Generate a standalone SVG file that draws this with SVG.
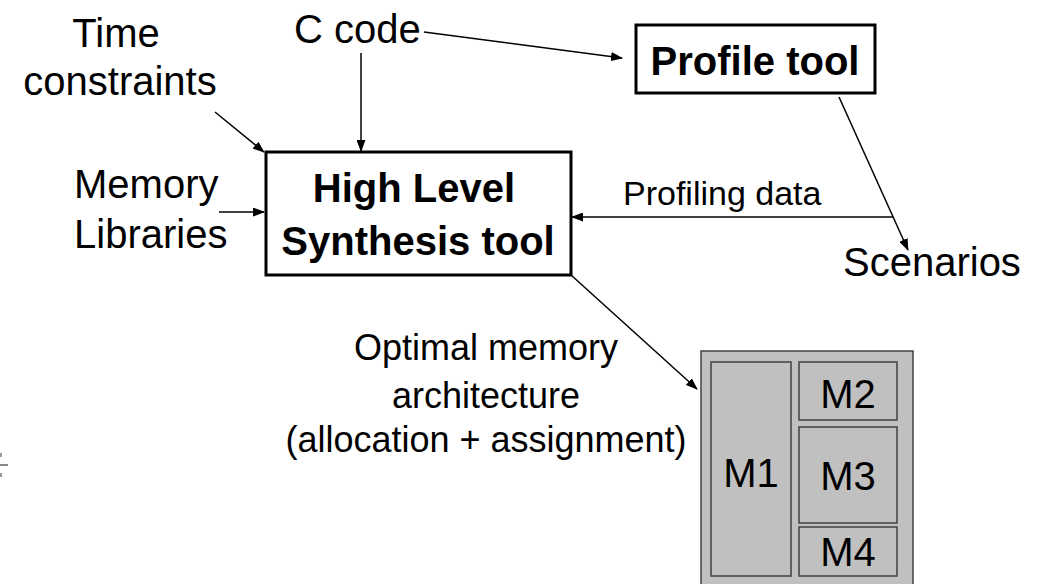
<svg xmlns="http://www.w3.org/2000/svg" width="1037" height="584" viewBox="0 0 1037 584">
<style>
.lbl{font-family:"Liberation Sans",Arial,sans-serif;font-size:40px;fill:#000}
.bold{font-family:"Liberation Sans",Arial,sans-serif;font-size:40px;font-weight:bold;fill:#000}
.small{font-family:"Liberation Sans",Arial,sans-serif;font-size:34px;fill:#000}
.mid{font-family:"Liberation Sans",Arial,sans-serif;font-size:36px;fill:#000}
.box{fill:#fff;stroke:#000;stroke-width:3}
.mem{fill:#c0c0c0;stroke:#404040;stroke-width:1.5}
.conn{stroke:#000;stroke-width:1.5;fill:none;marker-end:url(#arr)}
</style>
<defs>
<marker id="arr" markerUnits="userSpaceOnUse" markerWidth="12" markerHeight="9" refX="11" refY="4.5" orient="auto">
<path d="M0,0 L12,4.5 L0,9 z" fill="#000"/>
</marker>
</defs>
<rect width="1037" height="584" fill="#fff"/>
<g id="artifact">
<line x1="0" y1="465" x2="8" y2="465" stroke="#888" stroke-width="2"/>
<rect x="0" y="453" width="2" height="4" fill="#999"/>
<rect x="0" y="473" width="2" height="4" fill="#999"/>
</g>
<g id="time-constraints">
<text class="lbl" x="116" y="47" text-anchor="middle">Time</text>
<text class="lbl" x="120" y="95" text-anchor="middle">constraints</text>
</g>
<g id="memory-libraries">
<text class="lbl" x="74" y="198">Memory</text>
<text class="lbl" x="74" y="248">Libraries</text>
</g>
<g id="c-code">
<text class="lbl" x="294" y="43">C code</text>
</g>
<g id="hls">
<rect class="box" x="266" y="152" width="305" height="123"/>
<text class="bold" x="414" y="202" text-anchor="middle">High Level</text>
<text class="bold" x="418" y="255" text-anchor="middle">Synthesis tool</text>
</g>
<g id="profile-tool">
<rect class="box" x="636" y="25" width="239" height="68"/>
<text class="bold" x="755" y="75" text-anchor="middle">Profile tool</text>
</g>
<g id="profiling-data">
<text class="small" x="623" y="205">Profiling data</text>
</g>
<g id="scenarios">
<text class="lbl" x="843" y="276">Scenarios</text>
</g>
<g id="optimal-label">
<text class="mid" x="486" y="360" text-anchor="middle">Optimal memory</text>
<text class="mid" x="486" y="408" text-anchor="middle">architecture</text>
<text class="mid" x="486" y="452" text-anchor="middle">(allocation + assignment)</text>
</g>
<g id="memory-architecture">
<rect class="mem" x="701" y="351" width="212" height="240"/>
<rect class="mem" x="711" y="362" width="80" height="214"/>
<rect class="mem" x="799" y="362" width="98" height="58"/>
<rect class="mem" x="799" y="427" width="98" height="96"/>
<rect class="mem" x="799" y="527" width="98" height="49"/>
<text class="lbl" x="751" y="487" text-anchor="middle">M1</text>
<text class="lbl" x="848" y="408" text-anchor="middle">M2</text>
<text class="lbl" x="848" y="490" text-anchor="middle">M3</text>
<text class="lbl" x="848" y="566" text-anchor="middle">M4</text>
</g>
<g id="connectors">
<line class="conn" x1="424" y1="32" x2="622" y2="58"/>
<line class="conn" x1="361" y1="53" x2="361" y2="151"/>
<line class="conn" x1="215" y1="112" x2="264" y2="152"/>
<line class="conn" x1="219" y1="212" x2="264" y2="212"/>
<line class="conn" x1="893" y1="217" x2="572" y2="217"/>
<line class="conn" x1="839" y1="97" x2="908" y2="250"/>
<line class="conn" x1="571" y1="275" x2="697" y2="389"/>
</g>
</svg>
